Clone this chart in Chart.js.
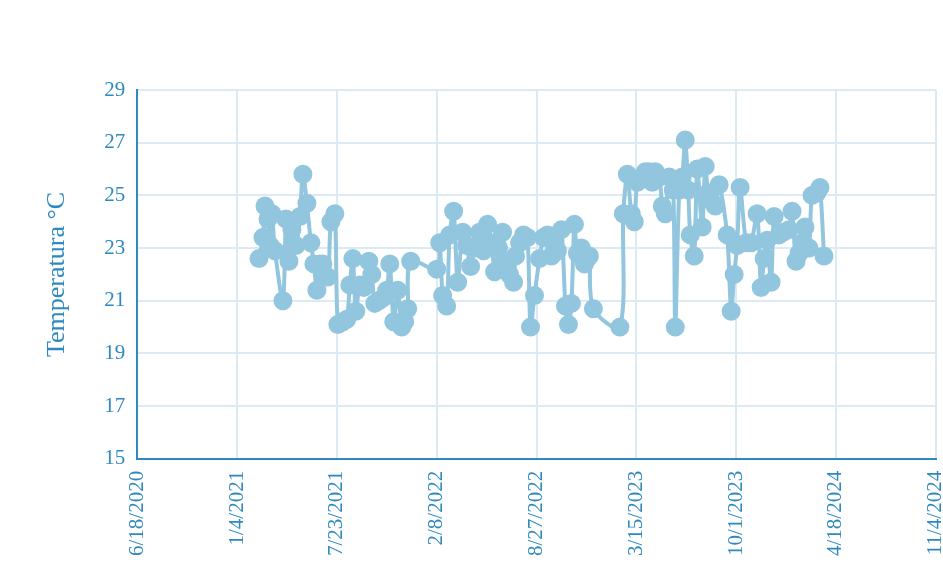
<!DOCTYPE html>
<html>
<head>
<meta charset="utf-8">
<script src="https://cdn.jsdelivr.net/npm/chart.js@4"></script>
<style>
  html, body { margin: 0; padding: 0; background: #fff; overflow: hidden; }
  #wrap { width: 973px; height: 575px; }
</style>
</head>
<body>
<div id="wrap"><canvas id="myChart"></canvas></div>
<script>
// fechas de las mediciones
var fechas = [
  '2021-02-17','2021-02-25','2021-03-01','2021-03-07','2021-03-11','2021-03-15','2021-03-21','2021-04-06',
  '2021-04-12','2021-04-18','2021-04-24','2021-05-02','2021-05-10','2021-05-16','2021-05-24','2021-06-01',
  '2021-06-07','2021-06-13','2021-06-19','2021-06-25','2021-07-05','2021-07-11','2021-07-19','2021-07-25',
  '2021-08-04','2021-08-12','2021-08-18','2021-08-24','2021-08-30','2021-09-07','2021-09-15','2021-09-25',
  '2021-10-01','2021-10-07','2021-10-15','2021-10-23','2021-10-31','2021-11-06','2021-11-14','2021-11-22',
  '2021-11-30','2021-12-06','2021-12-12','2021-12-18',
  '2022-02-08','2022-02-14','2022-02-20','2022-02-28','2022-03-06','2022-03-14','2022-03-22','2022-04-01',
  '2022-04-09','2022-04-17','2022-04-25','2022-05-05','2022-05-13','2022-05-21','2022-05-29','2022-06-04',
  '2022-06-12','2022-06-20','2022-06-26','2022-07-04','2022-07-12','2022-07-16','2022-07-24','2022-08-01',
  '2022-08-09','2022-08-15','2022-08-23','2022-09-02','2022-09-10','2022-09-18','2022-09-26','2022-10-02',
  '2022-10-08','2022-10-16','2022-10-24','2022-10-30','2022-11-05','2022-11-11','2022-11-17','2022-11-25',
  '2022-12-01','2022-12-07','2022-12-11','2022-12-19',
  '2023-02-10','2023-02-17','2023-02-25','2023-03-05','2023-03-11','2023-03-17','2023-03-27','2023-04-02',
  '2023-04-10','2023-04-16','2023-04-22','2023-04-30','2023-05-06','2023-05-12','2023-05-20','2023-05-28',
  '2023-06-01','2023-06-09','2023-06-15','2023-06-21','2023-06-27','2023-07-01','2023-07-09','2023-07-15',
  '2023-07-25','2023-07-31','2023-08-06','2023-08-12','2023-08-20','2023-08-28','2023-09-13','2023-09-21',
  '2023-09-27','2023-10-03','2023-10-09','2023-10-21','2023-10-31','2023-11-12','2023-11-20','2023-11-26',
  '2023-12-02','2023-12-10','2023-12-16','2023-12-26',
  '2024-01-03','2024-01-15','2024-01-21','2024-01-29','2024-02-04','2024-02-10','2024-02-16','2024-02-24',
  '2024-03-01','2024-03-11','2024-03-17','2024-03-25'
];

// temperatura en °C
var temperaturas = [
  22.6, 23.4, 24.6, 24.1, 23.1, 24.3, 22.9, 21.0,
  24.1, 22.5, 23.7, 23.1, 24.2, 25.8, 24.7, 23.2,
  22.4, 21.4, 22.4, 22.4, 21.9, 24.0, 24.3, 20.1,
  20.2, 20.3, 21.6, 22.6, 20.6, 21.6, 21.5, 22.5,
  22.0, 20.9, 21.0, 21.1, 21.4, 22.4, 20.2, 21.4,
  20.0, 20.2, 20.7, 22.5,
  22.2, 23.2, 21.2, 20.8, 23.5, 24.4, 21.7, 23.6,
  23.1, 22.3, 23.0, 23.6, 22.9, 23.9, 23.2, 22.1,
  23.0, 23.6, 22.4, 22.0, 21.7, 22.7, 23.2, 23.5,
  23.4, 20.0, 21.2, 22.6, 23.4, 23.5, 22.7, 23.1,
  22.9, 23.7, 20.8, 20.1, 20.9, 23.9, 22.8, 23.0,
  22.4, 22.6, 22.7, 20.7,
  20.0, 24.3, 25.8, 24.3, 24.0, 25.5, 25.7, 25.9,
  25.9, 25.5, 25.9, 25.7, 24.6, 24.3, 25.7, 25.2,
  20.0, 25.2, 25.7, 27.1, 25.2, 23.5, 22.7, 26.0,
  23.8, 26.1, 25.1, 24.8, 24.6, 25.4, 23.5, 20.6,
  22.0, 23.1, 25.3, 23.2, 23.2, 24.3, 21.5, 22.6,
  23.3, 21.7, 24.2, 23.5,
  23.6, 23.7, 24.4, 22.5, 22.8, 23.2, 23.8, 23.0,
  25.0, 25.1, 25.3, 22.7
];

var fechaInicio = '2020-06-18';
var diasMax = 1600;
var pasoDias = 200;
var ticksY = [15, 17, 19, 21, 23, 25, 27, 29];

var DIA = 86400000;
var t0 = Date.parse(fechaInicio);

function diasDesdeInicio(f) {
  return Math.round((Date.parse(f) - t0) / DIA);
}

function formatoFecha(dias) {
  var d = new Date(t0 + dias * DIA);
  return (d.getUTCMonth() + 1) + '/' + d.getUTCDate() + '/' + d.getUTCFullYear();
}

var puntos = fechas.map(function(f, i) {
  return { x: diasDesdeInicio(f), y: temperaturas[i] };
});

var azul = '#92C5DE';
var texto = '#2E89BF';
var rejilla = '#DCEBF3';
var fuente = "'Liberation Serif', 'Times New Roman', serif";

var ctx = document.getElementById('myChart').getContext('2d');
var myChart = new Chart(ctx, {
  type: 'line',
  data: {
    datasets: [{
      data: puntos,
      borderColor: azul,
      backgroundColor: azul,
      pointBackgroundColor: azul,
      pointBorderColor: azul,
      borderWidth: 4,
      pointRadius: 7.5,
      pointHoverRadius: 7.5,
      tension: 0.3
    }]
  },
  options: {
    responsive: true,
    maintainAspectRatio: false,
    animation: false,
    layout: { padding: { top: 90, left: 42, right: 0, bottom: 7 } },
    plugins: { legend: { display: false }, tooltip: { enabled: false } },
    scales: {
      x: {
        type: 'linear',
        min: 0,
        max: diasMax,
        grid: { color: rejilla, lineWidth: 2, tickLength: 0 },
        border: { color: texto, width: 2 },
        ticks: {
          stepSize: pasoDias,
          minRotation: 90,
          maxRotation: 90,
          padding: 12,
          color: texto,
          font: { family: fuente, size: 21 },
          callback: function(v) { return formatoFecha(v); }
        }
      },
      y: {
        min: ticksY[0],
        max: ticksY[ticksY.length - 1],
        afterBuildTicks: function(axis) {
          axis.ticks = ticksY.map(function(v) { return { value: v }; });
        },
        grid: { color: rejilla, lineWidth: 2, tickLength: 0 },
        border: { color: texto, width: 2 },
        ticks: {
          padding: 12,
          color: texto,
          font: { family: fuente, size: 21 }
        },
        title: {
          display: true,
          text: 'Temperatura °C',
          color: texto,
          padding: { top: 0, bottom: 19 },
          font: { family: fuente, size: 26 }
        }
      }
    }
  }
});
</script>
</body>
</html>
